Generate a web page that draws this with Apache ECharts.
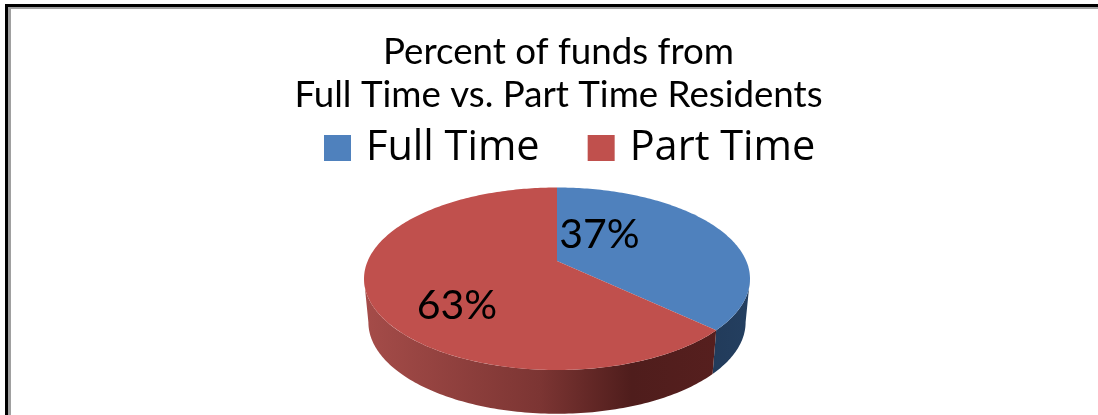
<!DOCTYPE html>
<html>
<head>
<meta charset="utf-8">
<style>
  html, body { margin: 0; padding: 0; background: #fff; }
  #main { width: 1098px; height: 415px; }
</style>
<script src="https://cdn.jsdelivr.net/npm/echarts@6/dist/echarts.min.js"></script>
</head>
<body>
<div id="main"></div>
<script>
var titleLines = ['Percent of funds from', 'Full Time vs. Part Time Residents'];
var categories = ['Full Time', 'Part Time'];
var shares = [37, 63];
var colors = ['#4f81bd', '#c0504d'];

var fontName = 'Lato';
var total = shares[0] + shares[1];

// pie seen in perspective: the circle is projected, so the centre is not the ellipse centre
var k = 0.1946;
var topFace = { x: 557, y: 261, a: 189.3, b: 87.8 };
var bottomFace = { x: 557, y: 304.5, a: 185, b: 88 };
var labelPos = [[599.5, 235], [457, 306]];

// left and right ends of the visible wall, in degrees clockwise from top
var wallFrom = 101.2, wallTo = 258.8;

var project = function (face, deg) {
    var t = deg * Math.PI / 180;
    var u = Math.sin(t), v = -Math.cos(t);
    var d = 1 - k * v;
    return [face.x + face.a * u / d, face.y + face.b * v / d];
};

var arcPoints = function (face, from, to) {
    var pts = [];
    var n = Math.max(2, Math.ceil(Math.abs(to - from)));
    for (var i = 0; i <= n; i++) {
        pts.push(project(face, from + (to - from) * i / n));
    }
    return pts;
};

var wallFill = [
    new echarts.graphic.LinearGradient(640, 0, 750, 0, [
        { offset: 0, color: '#1e3450' },
        { offset: 1, color: '#243f60' }
    ], true),
    new echarts.graphic.LinearGradient(364, 0, 716, 0, [
        { offset: 0, color: '#a54c49' },
        { offset: 0.5, color: '#7c3533' },
        { offset: 0.76, color: '#4f1d1c' },
        { offset: 1, color: '#561f1e' }
    ], true)
];

var renderSlice = function (params, api) {
    var idx = params.seriesIndex;
    var value = api.value(0);
    var start = api.value(1) / total * 360;
    var end = start + value / total * 360;
    var children = [];

    var a = Math.max(start, wallFrom), b = Math.min(end, wallTo);
    if (b > a) {
        children.push({
            type: 'polygon',
            shape: { points: arcPoints(topFace, a, b).concat(arcPoints(bottomFace, b, a)) },
            style: { fill: wallFill[idx] }
        });
    }
    children.push({
        type: 'polygon',
        shape: { points: [[topFace.x, topFace.y]].concat(arcPoints(topFace, start, end)) },
        style: { fill: colors[idx] }
    });
    children.push({
        type: 'text',
        x: labelPos[idx][0],
        y: labelPos[idx][1],
        style: {
            text: value + '%',
            fill: '#000',
            font: '41px ' + fontName,
            align: 'center',
            verticalAlign: 'middle'
        }
    });
    return { type: 'group', children: children };
};

var myChart = echarts.init(document.getElementById('main'), null, { renderer: 'canvas' });

var series = [];
for (var i = 0; i < categories.length; i++) {
    series.push({
        name: categories[i],
        type: 'custom',
        coordinateSystem: 'none',
        renderItem: renderSlice,
        itemStyle: { color: colors[i] },
        silent: true,
        data: [[shares[i], i === 0 ? 0 : shares[0]]]
    });
}

var option = {
    animation: false,
    backgroundColor: '#fff',
    title: {
        text: titleLines.join('\n'),
        left: 553.5,
        top: 26,
        textAlign: 'center',
        textStyle: { color: '#000', fontFamily: fontName, fontWeight: 'normal', fontSize: 36.7, lineHeight: 43 }
    },
    legend: {
        data: categories,
        left: 319,
        top: 122,
        itemWidth: 27,
        itemHeight: 26,
        itemGap: 48,
        icon: 'rect',
        textStyle: { color: '#000', fontFamily: 'Open Sans', fontSize: 41.5, padding: [0, 0, 0, 10] }
    },
    graphic: [
        { type: 'rect', shape: { x: 5, y: 4, width: 1093, height: 3 }, style: { fill: '#000' } },
        { type: 'rect', shape: { x: 5, y: 4, width: 3, height: 411 }, style: { fill: '#000' } },
        { type: 'rect', shape: { x: 8, y: 7, width: 1090, height: 2 }, style: { fill: '#a0a0a0' } },
        { type: 'rect', shape: { x: 8, y: 7, width: 3, height: 408 }, style: { fill: '#a0a0a0' } }
    ],
    series: series
};
myChart.setOption(option);
</script>
</body>
</html>
